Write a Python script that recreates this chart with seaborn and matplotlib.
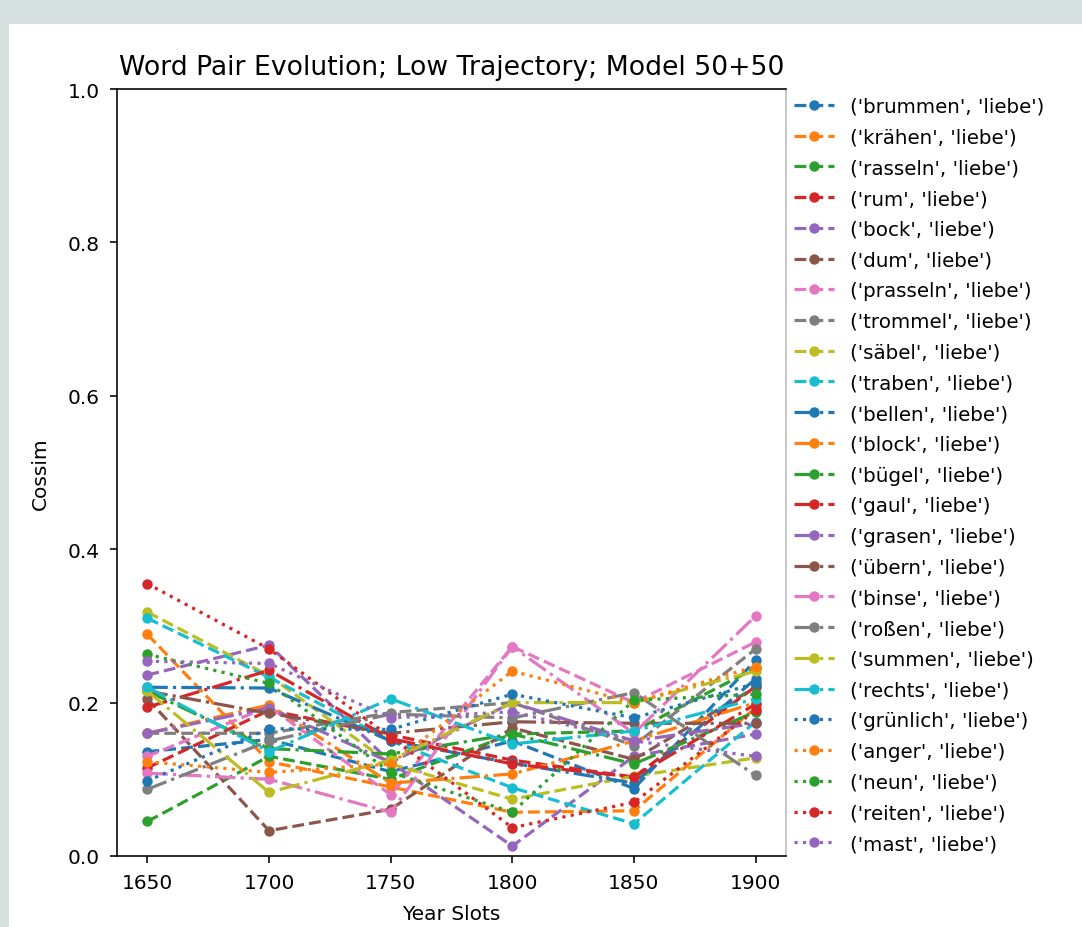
import matplotlib
matplotlib.use('Agg')
import matplotlib.pyplot as plt
import seaborn as sns
from matplotlib.patches import Rectangle

# Data
years = [1650, 1700, 1750, 1800, 1850, 1900]
words = ['brummen', 'krähen', 'rasseln', 'rum', 'bock', 'dum', 'prasseln',
         'trommel', 'säbel', 'traben', 'bellen', 'block', 'bügel', 'gaul',
         'grasen', 'übern', 'binse', 'roßen', 'summen', 'rechts', 'grünlich',
         'anger', 'neun', 'reiten', 'mast']

brummen = [0.136, 0.152, 0.110, 0.150, 0.088, 0.255]
kraehen = [0.289, 0.123, 0.090, 0.057, 0.059, 0.193]
rasseln = [0.045, 0.130, 0.100, 0.159, 0.163, 0.245]
rum = [0.115, 0.190, 0.158, 0.125, 0.103, 0.221]
bock = [0.236, 0.275, 0.122, 0.013, 0.130, 0.159]
dum = [0.205, 0.033, 0.061, 0.167, 0.126, 0.220]
prasseln = [0.130, 0.195, 0.080, 0.273, 0.200, 0.279]
trommel = [0.160, 0.160, 0.187, 0.200, 0.144, 0.270]
saebel = [0.318, 0.235, 0.120, 0.074, 0.104, 0.128]
traben = [0.310, 0.233, 0.150, 0.089, 0.042, 0.175]
bellen = [0.220, 0.219, 0.150, 0.121, 0.095, 0.231]
block = [0.160, 0.197, 0.095, 0.107, 0.150, 0.200]
buegel = [0.215, 0.140, 0.133, 0.159, 0.120, 0.188]
gaul = [0.194, 0.242, 0.153, 0.120, 0.103, 0.198]
grasen = [0.160, 0.193, 0.122, 0.200, 0.150, 0.173]
uebern = [0.215, 0.186, 0.160, 0.175, 0.173, 0.173]
binse = [0.108, 0.100, 0.057, 0.273, 0.160, 0.313]
rossen = [0.087, 0.150, 0.185, 0.180, 0.213, 0.105]
summen = [0.215, 0.083, 0.125, 0.200, 0.200, 0.241]
rechts = [0.220, 0.136, 0.205, 0.146, 0.163, 0.205]
gruenlich = [0.098, 0.166, 0.165, 0.211, 0.180, 0.225]
anger = [0.123, 0.109, 0.120, 0.241, 0.200, 0.247]
neun = [0.263, 0.225, 0.109, 0.057, 0.203, 0.211]
reiten = [0.355, 0.270, 0.155, 0.037, 0.070, 0.190]
mast = [0.254, 0.251, 0.180, 0.188, 0.150, 0.130]

series = [brummen, kraehen, rasseln, rum, bock, dum, prasseln, trommel,
          saebel, traben, bellen, block, buegel, gaul, grasen, uebern, binse,
          rossen, summen, rechts, gruenlich, anger, neun, reiten, mast]
styles = ['--'] * 10 + ['-.'] * 10 + [':'] * 5

fig = plt.figure(figsize=(10.82, 9.28), dpi=100, facecolor='#d5dfdd')
# white panel of the page, drawn below the axes
fig.patches.append(Rectangle((9 / 1082, 0), 1, 903 / 928, transform=fig.transFigure,
                             facecolor='white', edgecolor='none', zorder=-10))
ax = fig.add_axes([117 / 1082, 1 - 857 / 928, 669 / 1082, 767 / 928])

palette = sns.color_palette('tab10', 10)
for i, (w, vals) in enumerate(zip(words, series)):
    sns.lineplot(x=years, y=vals, ax=ax, color=palette[i % 10], linestyle=styles[i],
                 marker='o', markersize=7.5, markeredgewidth=0, linewidth=2.3,
                 label=f"('{w}', 'liebe')")

ax.set_ylim(0, 1.0)
ax.set_xticks(years)
ax.set_yticks([0.0, 0.2, 0.4, 0.6, 0.8, 1.0])
ax.set_title('Word Pair Evolution; Low Trajectory; Model 50+50', fontsize=19.2, pad=10.5)
ax.set_xlabel('Year Slots', fontsize=14.5, labelpad=8.5)
ax.set_ylabel('Cossim', fontsize=14.5, labelpad=13)
ax.tick_params(labelsize=14.5, length=5, width=1.15, pad=7.5)
for s in ax.spines.values():
    s.set_linewidth(1.15)
ax.spines['right'].set_color('#bbbbbb')

ax.legend(loc='upper left', bbox_to_anchor=(1.0, 1.0), borderaxespad=0,
          frameon=False, fontsize=14.3, labelspacing=0.59)

fig.savefig('out.png', dpi=100, facecolor=fig.get_facecolor())
